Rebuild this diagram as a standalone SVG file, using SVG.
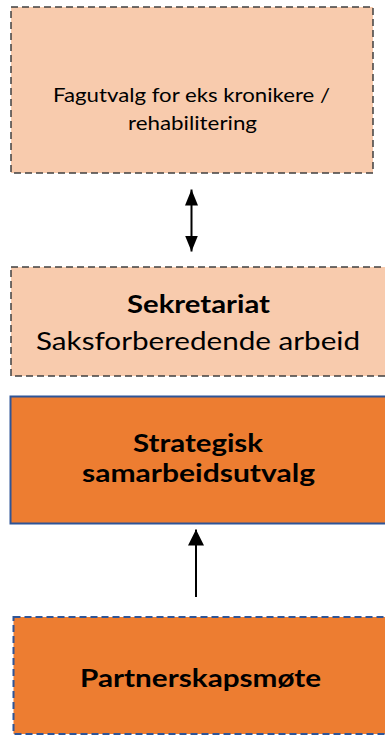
<svg xmlns="http://www.w3.org/2000/svg" width="385" height="735" viewBox="0 0 385 735">
<style>
.light{fill:#F8CBAD;stroke:#404040;stroke-width:1.5;stroke-dasharray:7 4}
.dark{fill:#ED7D31;stroke:#2F5597;stroke-width:2}
.darkdash{fill:#ED7D31;stroke:#2F5597;stroke-width:2;stroke-dasharray:7 4}
text{font-family:Lato,"Open Sans","Liberation Sans",sans-serif;fill:#000;text-anchor:middle}
.b{font-weight:bold}
.conn{stroke:#000;stroke-width:2;fill:none}
</style>
<defs>
<marker id="ah1" viewBox="0 0 16 13" refX="16" refY="6.5" markerWidth="16" markerHeight="13" markerUnits="userSpaceOnUse" orient="auto-start-reverse">
<path d="M0,0 L16,6.5 L0,13 Z" fill="#000"/>
</marker>
<marker id="ah2" viewBox="0 0 16 16" refX="16" refY="8" markerWidth="16" markerHeight="16" markerUnits="userSpaceOnUse" orient="auto-start-reverse">
<path d="M0,0 L16,8 L0,16 Z" fill="#000"/>
</marker>
</defs>
<g id="fagutvalg">
<rect class="light" x="11" y="7" width="362" height="166"/>
<text x="191.5" y="101.5" font-size="19" textLength="277" lengthAdjust="spacingAndGlyphs">Fagutvalg for eks kronikere /</text>
<text x="192.5" y="130" font-size="19" textLength="129" lengthAdjust="spacingAndGlyphs">rehabilitering</text>
</g>
<g id="sekretariat">
<rect class="light" x="11" y="267" width="380" height="109"/>
<text class="b" x="198.5" y="313" font-size="25.5" textLength="143" lengthAdjust="spacingAndGlyphs">Sekretariat</text>
<text x="198" y="350" font-size="25.5" textLength="324" lengthAdjust="spacingAndGlyphs">Saksforberedende arbeid</text>
</g>
<g id="strategisk">
<rect class="dark" x="10.5" y="396.5" width="380" height="127"/>
<text class="b" x="198" y="451.5" font-size="25.5" textLength="130" lengthAdjust="spacingAndGlyphs">Strategisk</text>
<text class="b" x="198.5" y="481.5" font-size="25.5" textLength="233" lengthAdjust="spacingAndGlyphs">samarbeidsutvalg</text>
</g>
<g id="partnerskapsmote">
<rect class="darkdash" x="13.5" y="617" width="380" height="117"/>
<text class="b" x="200.5" y="686.5" font-size="25.5" textLength="241" lengthAdjust="spacingAndGlyphs">Partnerskapsmøte</text>
</g>
<g id="connectors">
<line class="conn" x1="191.5" y1="189.5" x2="191.5" y2="251.5" marker-start="url(#ah1)" marker-end="url(#ah1)"/>
<line class="conn" x1="196" y1="597" x2="196" y2="529.5" marker-end="url(#ah2)"/>
</g>
</svg>
